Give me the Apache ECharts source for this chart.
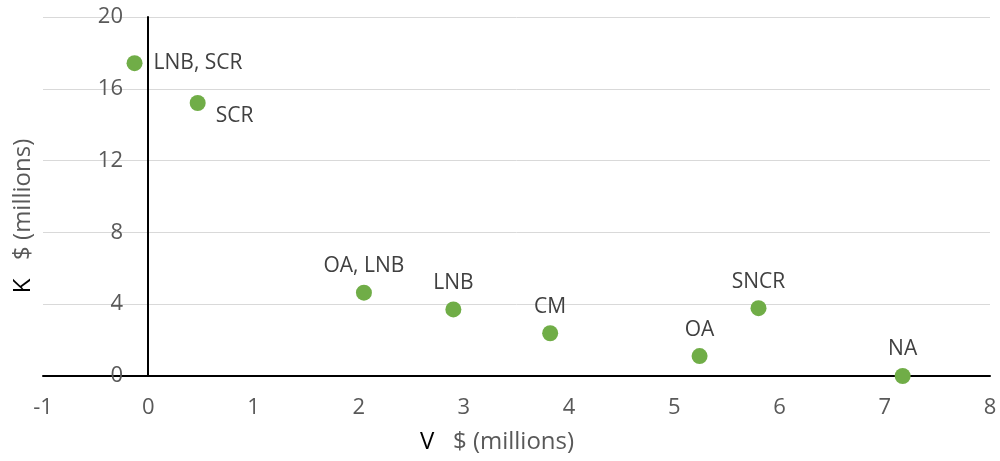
<!DOCTYPE html>
<html>
<head>
<meta charset="utf-8">
<script src="https://cdn.jsdelivr.net/npm/echarts@6/dist/echarts.min.js"></script>
<style>html,body{margin:0;padding:0;background:#fff;}#c{width:1000px;height:461px;}</style>
</head>
<body>
<div id="c"></div>
<script>
const names = ['LNB, SCR', 'SCR', 'OA, LNB', 'LNB', 'CM', 'OA', 'SNCR', 'NA'];
const xValues = [-0.13, 0.47, 2.05, 2.90, 3.82, 5.24, 5.80, 7.17];
const yValues = [17.43, 15.21, 4.64, 3.71, 2.38, 1.11, 3.78, 0];
const labelPos = ['right', 'rightBelow', 'top', 'top', 'top', 'top', 'top', 'top'];
const xAxisName = ['V', '$ (millions)'];
const yAxisName = ['K', '$ (millions)'];

const font = '"Open Sans", "Noto Sans", sans-serif';
const data = names.map((n, i) => {
  const d = { name: n, value: [xValues[i], yValues[i]] };
  if (labelPos[i] === 'right') d.label = { position: 'right', distance: 11 };
  else if (labelPos[i] === 'rightBelow') d.label = { position: 'right', distance: 10, offset: [0, 13] };
  else d.label = { position: 'top', distance: 8 };
  return d;
});

const nameRich = {
  k: { fill: '#000000', font: '24px ' + font },
  s: { fill: '#595959', font: '24px ' + font }
};

const chart = echarts.init(document.getElementById('c'), null, { renderer: 'canvas' });
chart.setOption({
  animation: false,
  backgroundColor: '#ffffff',
  grid: { left: 43, right: 10, top: 17, bottom: 85, containLabel: false, outerBoundsMode: 'none' },
  graphic: [
    {
      type: 'text', x: 497, y: 442,
      style: {
        text: '{k|' + xAxisName[0] + '}   {s|' + xAxisName[1] + '}',
        rich: nameRich, font: '24px ' + font, align: 'center', verticalAlign: 'middle'
      }
    },
    {
      type: 'text', x: 23, y: 216, rotation: Math.PI / 2,
      style: {
        text: '{k|' + yAxisName[0] + '}   {s|' + yAxisName[1] + '}',
        rich: nameRich, font: '24px ' + font, align: 'center', verticalAlign: 'middle'
      }
    }
  ],
  xAxis: {
    type: 'value', min: -1, max: 8, interval: 1,
    axisLine: { show: true, onZero: true, lineStyle: { color: '#000', width: 2 } },
    axisTick: { show: false },
    axisLabel: { color: '#595959', fontSize: 22, fontFamily: font, margin: 21 },
    splitLine: { show: false }
  },
  yAxis: {
    type: 'value', min: 0, max: 20, interval: 4,
    axisLine: { show: true, onZero: true, lineStyle: { color: '#000', width: 2 } },
    axisTick: { show: false },
    axisLabel: { color: '#595959', fontSize: 22, fontFamily: font, margin: -80 },
    splitLine: { show: true, lineStyle: { color: '#D9D9D9', width: 1 } }
  },
  series: [{
    type: 'scatter',
    symbol: 'circle',
    symbolSize: 16,
    itemStyle: { color: '#70AD47', opacity: 1 },
    label: { show: true, formatter: '{b}', color: '#404040', fontSize: 21, fontFamily: font },
    data: data,
    z: 5
  }]
});
</script>
</body>
</html>
